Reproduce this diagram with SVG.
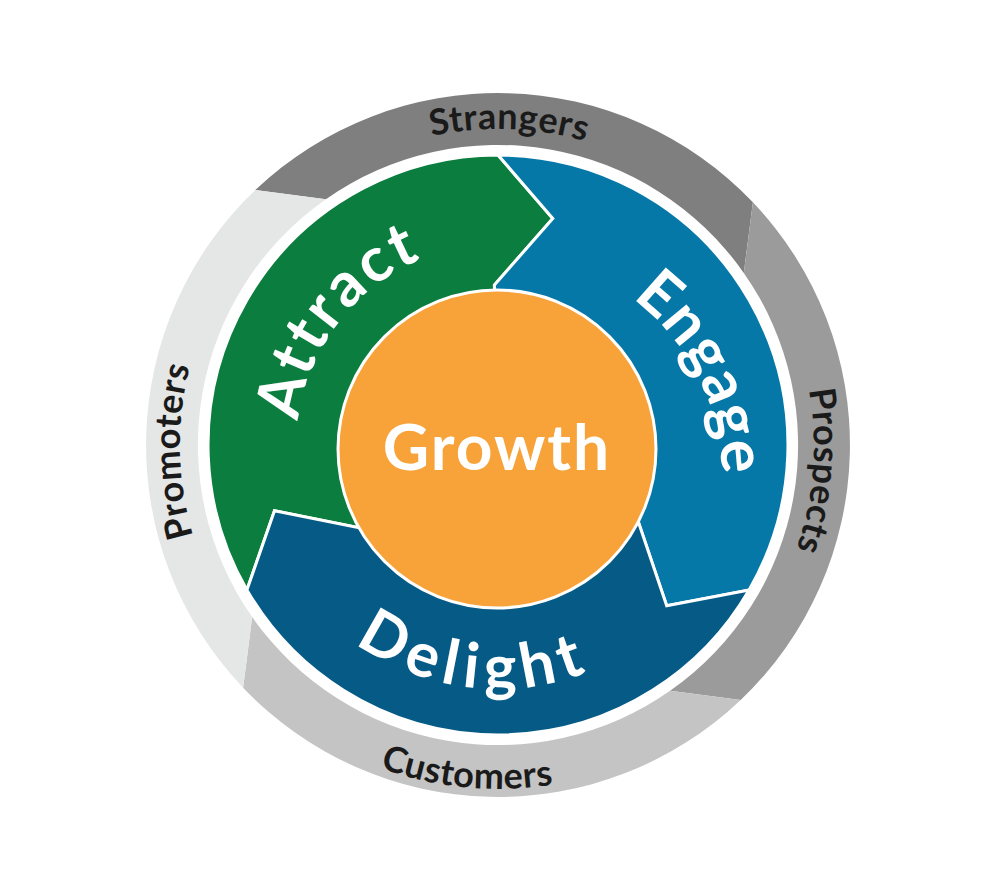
<svg xmlns="http://www.w3.org/2000/svg" width="1000" height="890" viewBox="0 0 1000 890">
<defs>
<style>
.lbl{font-family:Lato,"Liberation Sans",sans-serif;font-weight:700;font-size:36px;fill:#1a1a1a;letter-spacing:0.5px}
.big{font-family:Lato,"Liberation Sans",sans-serif;font-weight:700;font-size:62px;fill:#ffffff;letter-spacing:3px}
.seg{stroke:#ffffff;stroke-width:3;stroke-linejoin:miter}
</style>
<path id="pStr" d="M230,277.6 A316,316 0 0 1 777,296.6"/>
<path id="pPro" d="M676,184.5 A316,316 0 0 1 632.6,731.3"/>
<path id="pCus" d="M185.3,588.2 A344,344 0 0 0 778.4,644.2"/>
<path id="pPrm" d="M344.3,723.5 A318,318 0 0 1 333.8,172.7"/>
<path id="pAtt" d="M312.3,521.9 A201,201 0 0 1 524.2,245.7"/>
<path id="pEng" d="M509.7,254.3 A224,224 0 0 1 685.9,600"/>
<path id="pDel" d="M274.2,542.3 A244,244 0 0 0 694.2,590.1"/>
</defs>
<rect width="1000" height="890" fill="#ffffff"/>
<g id="ring-strangers">
<path d="M255.3,190.1 A352,352 0 0 1 752.9,202.3 L743.8,272.9 A300,300 0 0 0 325.9,199.2 Z" fill="#7f7f7f"/>
<text class="lbl"><textPath href="#pStr" startOffset="50%" text-anchor="middle">Strangers</textPath></text>
</g>
<g id="ring-prospects">
<path d="M752.9,202.3 A352,352 0 0 1 740.7,699.9 L670.1,690.8 A300,300 0 0 0 743.8,272.9 Z" fill="#9b9b9b"/>
<text class="lbl"><textPath href="#pPro" startOffset="50%" text-anchor="middle">Prospects</textPath></text>
</g>
<g id="ring-customers">
<path d="M740.7,699.9 A352,352 0 0 1 243.1,687.7 L252.2,617.1 A300,300 0 0 0 670.1,690.8 Z" fill="#c4c4c4"/>
<text class="lbl"><textPath href="#pCus" startOffset="50%" text-anchor="middle">Customers</textPath></text>
</g>
<g id="ring-promoters">
<path d="M243.1,687.7 A352,352 0 0 1 255.3,190.1 L325.9,199.2 A300,300 0 0 0 252.2,617.1 Z" fill="#e5e6e6"/>
<text class="lbl"><textPath href="#pPrm" startOffset="50%" text-anchor="middle">Promoters</textPath></text>
</g>
<g id="attract">
<path class="seg" d="M246.9,590 A290,290 0 0 1 498,155 L552.8,218.5 L494.4,285 L498,445 L361.3,528.1 L274.5,510.8 Z" fill="#0b7d3e"/>
<text class="big"><textPath href="#pAtt" startOffset="50%" text-anchor="middle">Attract</textPath></text>
</g>
<g id="engage">
<path class="seg" d="M498,155 A290,290 0 0 1 749.1,590 L666.7,605.7 L638.3,521.8 L498,445 L494.4,285 L552.8,218.5 Z" fill="#0678a8"/>
<text class="big" style="letter-spacing:1px"><textPath href="#pEng" startOffset="50%" text-anchor="middle">Engage</textPath></text>
</g>
<g id="delight">
<path class="seg" d="M749.1,590 A290,290 0 0 1 246.9,590 L274.5,510.8 L361.3,528.1 L498,445 L638.3,521.8 L666.7,605.7 Z" fill="#055a86"/>
<text class="big" style="letter-spacing:7px"><textPath href="#pDel" startOffset="50%" text-anchor="middle">Delight</textPath></text>
</g>
<g id="growth">
<circle cx="497" cy="449" r="159" fill="#f8a33a" stroke="#ffffff" stroke-width="3"/>
<text x="497" y="470" text-anchor="middle" class="big" style="font-size:64px;letter-spacing:2px">Growth</text>
</g>
</svg>
